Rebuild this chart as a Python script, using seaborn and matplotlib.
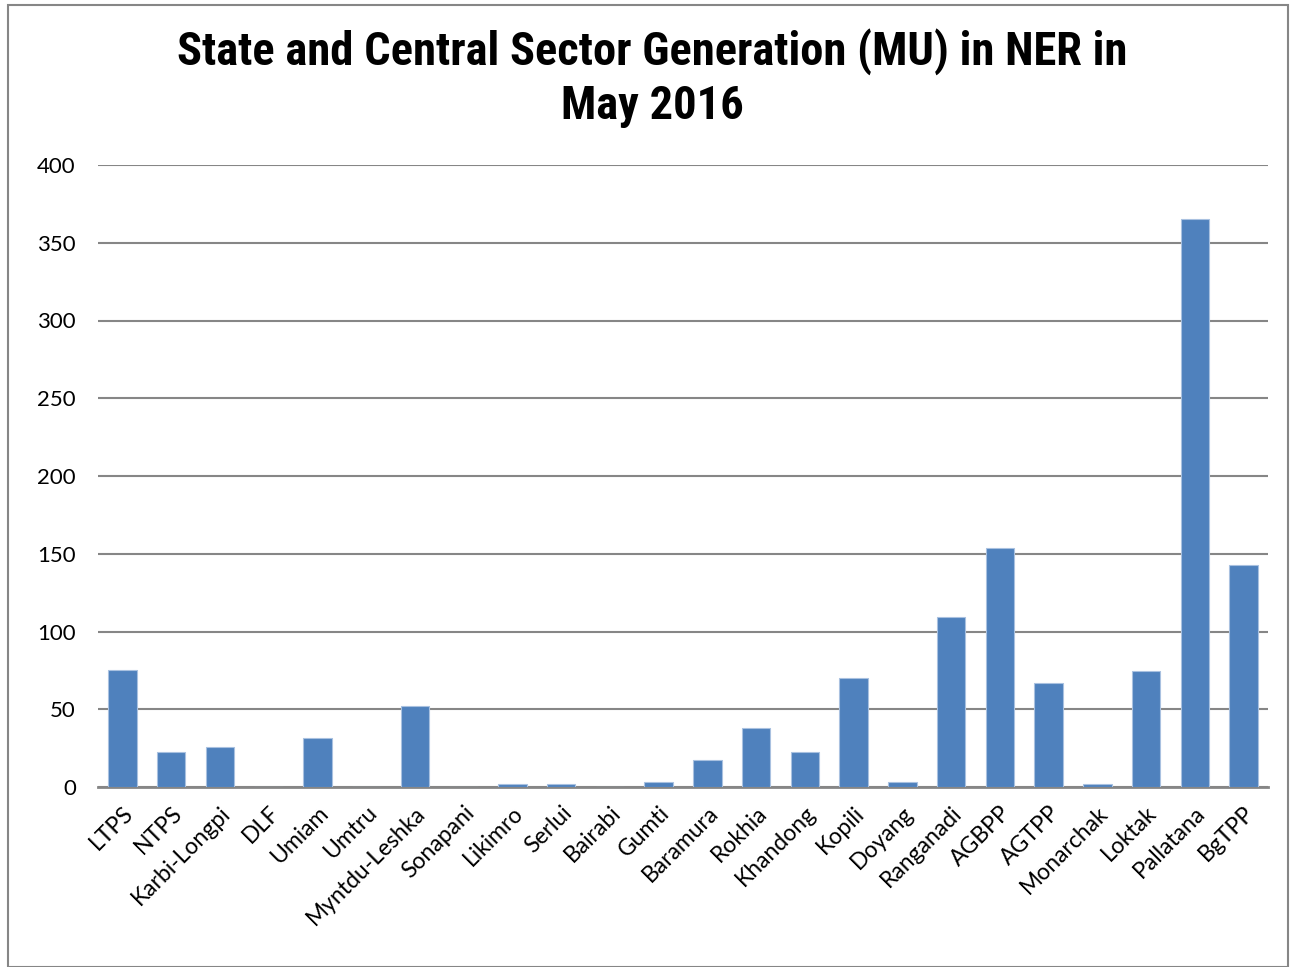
import matplotlib
matplotlib.use('Agg')
import matplotlib.pyplot as plt
import seaborn as sns
import pandas as pd

# Generation per station (MU), May 2016
stations = ['LTPS', 'NTPS', 'Karbi-Longpi', 'DLF', 'Umiam', 'Umtru', 'Myntdu-Leshka',
            'Sonapani', 'Likimro', 'Serlui', 'Bairabi', 'Gumti', 'Baramura', 'Rokhia',
            'Khandong', 'Kopili', 'Doyang', 'Ranganadi', 'AGBPP', 'AGTPP', 'Monarchak',
            'Loktak', 'Pallatana', 'BgTPP']
generation = [75.2, 22.3, 25.9, 0, 31.7, 0, 51.9,
              0, 2.0, 1.7, 0, 3.0, 17.2, 37.9,
              22.3, 69.9, 3.2, 109.3, 153.7, 66.7, 2.1,
              74.6, 365.3, 142.8]
y_ticks = [0, 50, 100, 150, 200, 250, 300, 350, 400]

df = pd.DataFrame({'Station': stations, 'MU': generation})

sns.set_style('white')
plt.rcParams['font.family'] = ['Lato', 'DejaVu Sans']

fig = plt.figure(figsize=(12.96, 9.67), dpi=100)
ax = fig.add_axes([98 / 1296, 1 - 787 / 967, (1268 - 98) / 1296, (787 - 165) / 967])

sns.barplot(data=df, x='Station', y='MU', color='#4F81BD', saturation=1,
            width=0.58, edgecolor='#A9C1E0', linewidth=0.8, ax=ax, zorder=3)

ax.set_ylim(0, 400)
ax.set_yticks(y_ticks)
ax.set_xlim(-0.5, len(stations) - 0.5)
ax.yaxis.grid(True, color='#868686', linewidth=1.5, zorder=0)
ax.set_axisbelow(True)
for s in ['top', 'right', 'left']:
    ax.spines[s].set_visible(False)
ax.spines['bottom'].set_color('#868686')
ax.spines['bottom'].set_linewidth(2)
ax.set_xlabel('')
ax.set_ylabel('')
ax.tick_params(axis='both', length=0, colors='black')
ax.tick_params(axis='y', pad=16, labelsize=16)
ax.tick_params(axis='x', pad=11, labelsize=16.5)
plt.setp(ax.get_xticklabels(), rotation=45, ha='right', rotation_mode='anchor')

title_font = ['Roboto Condensed', 'Liberation Sans Narrow', 'Open Sans Condensed', 'Roboto', 'DejaVu Sans']
fig.text(0.503, 0.947, 'State and Central Sector Generation (MU) in NER in',
         ha='center', va='center', fontsize=33.5, fontweight='bold', color='black',
         family=title_font)
fig.text(0.503, 0.890, 'May 2016',
         ha='center', va='center', fontsize=33.5, fontweight='bold', color='black',
         family=title_font)

# outer frame
fig.patches.append(plt.Rectangle((0.006, 0.0), 0.994 - 0.006, 0.995, transform=fig.transFigure,
                                 fill=False, edgecolor='#868686', linewidth=1.5))

fig.savefig('out.png', dpi=100)
